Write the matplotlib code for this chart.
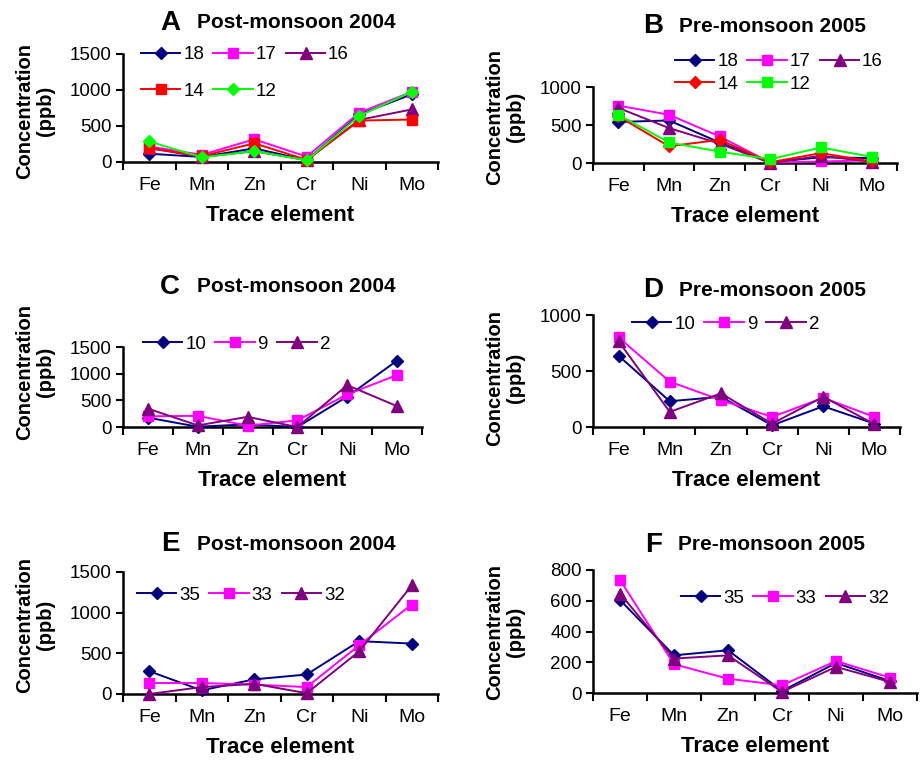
import matplotlib.pyplot as plt

plt.rcParams['font.family'] = ['Liberation Sans', 'DejaVu Sans']

# trace elements measured at each station (ppb)
elements = ['Fe', 'Mn', 'Zn', 'Cr', 'Ni', 'Mo']

# A: post-monsoon 2004
a_18 = [115, 70, 190, 25, 660, 940]
a_17 = [215, 100, 315, 75, 685, 975]
a_16 = [195, 70, 150, 25, 585, 730]
a_14 = [190, 80, 260, 30, 575, 590]
a_12 = [285, 65, 150, 25, 640, 975]

# B: pre-monsoon 2005
b_18 = [540, 560, 270, 10, 75, 65]
b_17 = [755, 635, 350, 5, 20, 35]
b_16 = [725, 460, 255, 0, 95, 15]
b_14 = [615, 220, 305, 10, 130, 20]
b_12 = [635, 270, 150, 50, 205, 80]

# C: post-monsoon 2004
c_10 = [175, 5, 50, 0, 570, 1245]
c_9 = [200, 210, 25, 125, 610, 975]
c_2 = [345, 30, 190, 0, 785, 390]

# D: pre-monsoon 2005
d_10 = [636, 230, 270, 15, 185, 30]
d_9 = [800, 405, 240, 90, 260, 90]
d_2 = [765, 135, 300, 30, 270, 25]

# E: post-monsoon 2004
e_35 = [280, 45, 180, 240, 650, 620]
e_33 = [135, 135, 115, 85, 600, 1100]
e_32 = [0, 85, 125, 10, 525, 1335]

# F: pre-monsoon 2005
f_35 = [605, 245, 278, 13, 195, 78]
f_33 = [735, 187, 93, 50, 208, 100]
f_32 = [647, 224, 245, 7, 170, 72]

NAVY = '#000080'
MAGENTA = '#FF00FF'
PURPLE = '#800080'
RED = '#FF0000'
GREEN = '#00FF00'

W, H = 923, 765
fig = plt.figure(figsize=(W / 100, H / 100), dpi=100)


def px_axes(x0, y0, x1, y1):
    return fig.add_axes([x0 / W, 1 - y1 / H, (x1 - x0) / W, (y1 - y0) / H])


def draw_panel(ax, series, ymax, ystep, letter, title, title_pos, ylab_pos,
               leg_pos, leg_order, labelspacing):
    n = len(elements)
    xs = [i + 0.5 for i in range(n)]
    handles = []
    for label, vals, color, marker, ms in series:
        h, = ax.plot(xs, vals, color=color, lw=1.4, marker=marker, ms=ms,
                     mec=color, mfc=color, clip_on=False, zorder=3, label=label)
        handles.append(h)
    ax.set_xlim(0, n)
    ax.set_ylim(0, ymax)
    ax.set_yticks(range(0, ymax + 1, ystep))
    ax.set_xticks(range(n + 1))
    ax.set_xticklabels([])
    ax.set_xticks(xs, minor=True)
    ax.set_xticklabels(elements, minor=True)
    ax.tick_params(axis='x', which='major', direction='out', length=6, width=1.5)
    ax.tick_params(axis='x', which='minor', length=0, pad=11, labelsize=14)
    ax.tick_params(axis='y', direction='out', length=5, width=1.5, labelsize=13.5, pad=3)
    for s in ['top', 'right']:
        ax.spines[s].set_visible(False)
    for s in ['left', 'bottom']:
        ax.spines[s].set_linewidth(1.8)
    ax.set_xlabel('Trace element', fontsize=16, fontweight='bold', labelpad=8)

    tx, ty, lx = title_pos
    fig.text(tx / W, 1 - ty / H, letter, fontsize=20, fontweight='bold',
             ha='left', va='center')
    fig.text(lx / W, 1 - ty / H, title, fontsize=15, fontweight='bold',
             ha='left', va='center')

    yx, yy = ylab_pos
    fig.text(yx / W, 1 - yy / H, 'Concentration\n(ppb)', fontsize=14.5,
             fontweight='bold', rotation=90, ha='center', va='center',
             linespacing=1.15, multialignment='center')

    ordered = [handles[i] for i in leg_order]
    ax.legend(handles=ordered, labels=[h.get_label() for h in ordered],
              loc='center left', bbox_to_anchor=(leg_pos[0] / W, 1 - leg_pos[1] / H),
              bbox_transform=fig.transFigure, ncol=3, frameon=False,
              fontsize=13.5, handlelength=2.1, handletextpad=0.15,
              columnspacing=0.5, borderpad=0, borderaxespad=0,
              labelspacing=labelspacing)


ax_a = px_axes(123, 54, 438, 162)
draw_panel(ax_a,
           [('18', a_18, NAVY, 'D', 6.3), ('17', a_17, MAGENTA, 's', 7.5),
            ('16', a_16, PURPLE, '^', 8.5), ('14', a_14, RED, 's', 7.5),
            ('12', a_12, GREEN, 'D', 6.3)],
           1500, 500, 'A', 'Post-monsoon 2004', (160, 23, 197), (35, 111),
           (141, 73), [0, 3, 1, 4, 2], 1.05)

ax_b = px_axes(593, 87, 897, 163)
draw_panel(ax_b,
           [('18', b_18, NAVY, 'D', 6.3), ('17', b_17, MAGENTA, 's', 7.5),
            ('16', b_16, PURPLE, '^', 8.5), ('14', b_14, RED, 'D', 6.3),
            ('12', b_12, GREEN, 's', 7.5)],
           1000, 500, 'B', 'Pre-monsoon 2005', (643, 26, 679), (505, 117),
           (675, 73), [0, 3, 1, 4, 2], 0.3)

ax_c = px_axes(123, 347, 422, 427)
draw_panel(ax_c,
           [('10', c_10, NAVY, 'D', 6.3), ('9', c_9, MAGENTA, 's', 7.5),
            ('2', c_2, PURPLE, '^', 8.5)],
           1500, 500, 'C', 'Post-monsoon 2004', (160, 287, 197), (35, 372),
           (143, 344), [0, 1, 2], 0.5)

ax_d = px_axes(593, 315, 900, 427)
draw_panel(ax_d,
           [('10', d_10, NAVY, 'D', 6.3), ('9', d_9, MAGENTA, 's', 7.5),
            ('2', d_2, PURPLE, '^', 8.5)],
           1000, 500, 'D', 'Pre-monsoon 2005', (643, 290, 679), (505, 378),
           (632, 324), [0, 1, 2], 0.5)

ax_e = px_axes(123, 572, 438, 694)
draw_panel(ax_e,
           [('35', e_35, NAVY, 'D', 6.3), ('33', e_33, MAGENTA, 's', 7.5),
            ('32', e_32, PURPLE, '^', 8.5)],
           1500, 500, 'E', 'Post-monsoon 2004', (161, 544, 197), (35, 625),
           (137, 595), [0, 1, 2], 0.5)

ax_f = px_axes(593, 570, 917, 693)
draw_panel(ax_f,
           [('35', f_35, NAVY, 'D', 6.3), ('33', f_33, MAGENTA, 's', 7.5),
            ('32', f_32, PURPLE, '^', 8.5)],
           800, 200, 'F', 'Pre-monsoon 2005', (645, 545, 678), (505, 632),
           (681, 598), [0, 1, 2], 0.5)

fig.savefig('out.png', dpi=100)
